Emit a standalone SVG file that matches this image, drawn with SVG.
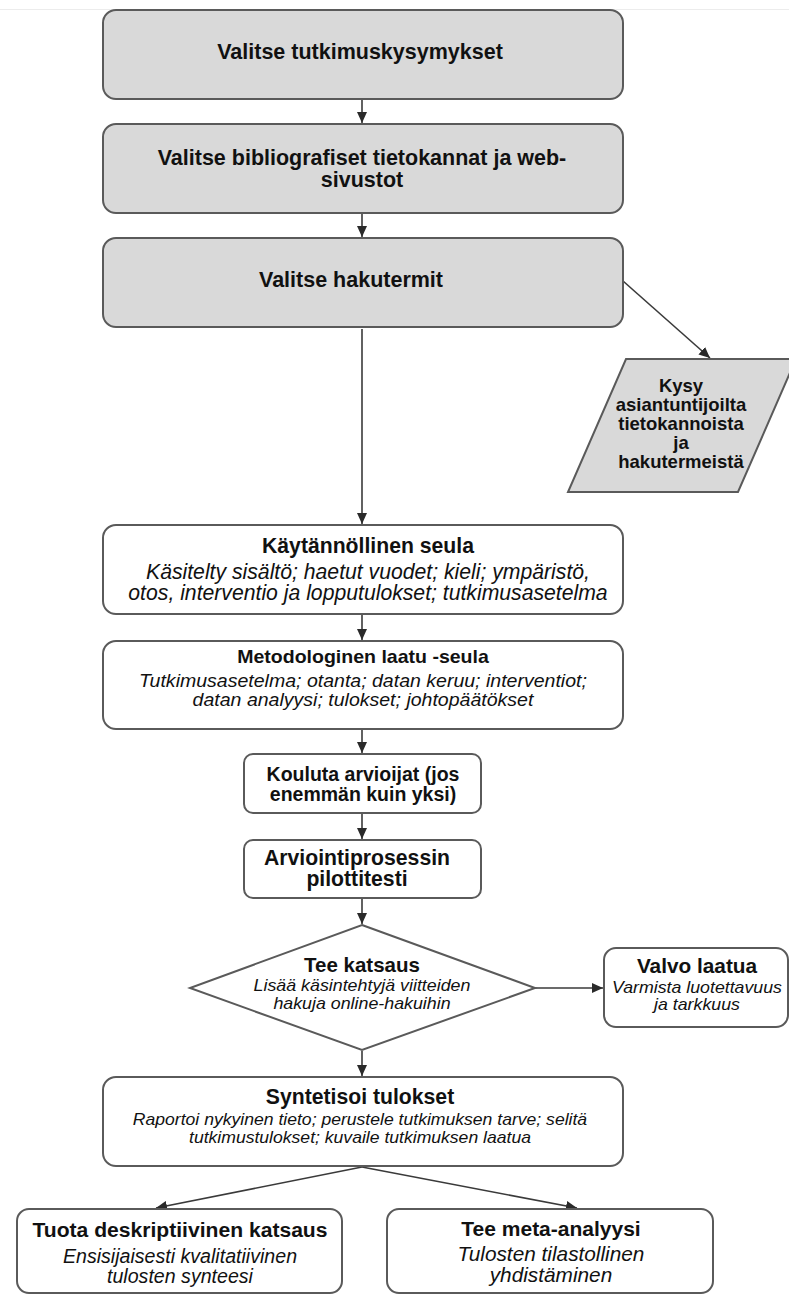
<svg xmlns="http://www.w3.org/2000/svg" width="789" height="1295" viewBox="0 0 789 1295">
  <style>
    .box { stroke: #5a5a5a; stroke-width: 2; }
    .grey { fill: #d9d9d9; }
    .white { fill: #ffffff; }
    .edge { fill: none; stroke: #3a3a3a; stroke-width: 1.6; }
    text { font-family: "Liberation Sans", Arial, sans-serif; fill: #111; text-anchor: middle; }
    .b { font-weight: bold; }
    .i { font-style: italic; }
  </style>
  <defs>
    <marker id="arrow" markerUnits="userSpaceOnUse" markerWidth="12" markerHeight="10" refX="11" refY="5" orient="auto">
      <path d="M0,0 L11,5 L0,10 Z" fill="#2a2a2a"/>
    </marker>
  </defs>

  <rect width="789" height="1295" fill="#ffffff"/>
  <line x1="0" y1="9.5" x2="789" y2="9.5" stroke="#ececec" stroke-width="1"/>

  <!-- connectors -->
  <g id="connectors">
    <line class="edge" x1="362" y1="100" x2="362" y2="123" marker-end="url(#arrow)"/>
    <line class="edge" x1="362" y1="214" x2="362" y2="237" marker-end="url(#arrow)"/>
    <line class="edge" x1="362" y1="329" x2="362" y2="524" marker-end="url(#arrow)"/>
    <line class="edge" x1="623" y1="281" x2="710" y2="358" marker-end="url(#arrow)"/>
    <line class="edge" x1="362" y1="615" x2="362" y2="640" marker-end="url(#arrow)"/>
    <line class="edge" x1="362" y1="730" x2="362" y2="753" marker-end="url(#arrow)"/>
    <line class="edge" x1="362" y1="814" x2="362" y2="839" marker-end="url(#arrow)"/>
    <line class="edge" x1="362" y1="899" x2="362" y2="924" marker-end="url(#arrow)"/>
    <line class="edge" x1="535" y1="988" x2="603" y2="988" marker-end="url(#arrow)"/>
    <line class="edge" x1="362" y1="1051" x2="362" y2="1076" marker-end="url(#arrow)"/>
    <line class="edge" x1="362" y1="1167" x2="156" y2="1208" marker-end="url(#arrow)"/>
    <line class="edge" x1="362" y1="1167" x2="577" y2="1208" marker-end="url(#arrow)"/>
  </g>

  <g id="n1">
    <rect class="box grey" x="103" y="10" width="520" height="89" rx="13"/>
    <text class="b" x="360" y="59" font-size="21.5">Valitse tutkimuskysymykset</text>
  </g>

  <g id="n2">
    <rect class="box grey" x="103" y="124" width="520" height="89" rx="13"/>
    <text class="b" x="362" y="165" font-size="21.5">Valitse bibliografiset tietokannat ja web-</text>
    <text class="b" x="362" y="187" font-size="21.5">sivustot</text>
  </g>

  <g id="n3">
    <rect class="box grey" x="103" y="238" width="520" height="89" rx="13"/>
    <text class="b" x="351" y="287" font-size="21.5">Valitse hakutermit</text>
  </g>

  <g id="n4">
    <polygon class="box grey" points="626,359 796,359 738,492 568,492"/>
    <text class="b" font-size="18.5" x="681" y="392">Kysy</text>
    <text class="b" font-size="18.5" x="681" y="411">asiantuntijoilta</text>
    <text class="b" font-size="18.5" x="681" y="430">tietokannoista</text>
    <text class="b" font-size="18.5" x="681" y="449">ja</text>
    <text class="b" font-size="18.5" x="681" y="468">hakutermeistä</text>
  </g>

  <g id="n5">
    <rect class="box white" x="103" y="525" width="520" height="89" rx="13"/>
    <text class="b" x="368" y="553" font-size="21.2">Käytännöllinen seula</text>
    <text class="i" x="368" y="579" font-size="21.2">Käsitelty sisältö; haetut vuodet; kieli; ympäristö,</text>
    <text class="i" x="368" y="600" font-size="21.2">otos, interventio ja lopputulokset; tutkimusasetelma</text>
  </g>

  <g id="n6">
    <rect class="box white" x="103" y="641" width="520" height="88" rx="13"/>
    <!-- labels set slightly wide: stretched about the box centre -->
    <g transform="matrix(1.11,0,0,1,-39.93,0)">
      <text class="b" x="363" y="663" font-size="17.6">Metodologinen laatu -seula</text>
      <text class="i" x="363" y="687" font-size="17.6">Tutkimusasetelma; otanta; datan keruu; interventiot;</text>
      <text class="i" x="363" y="706" font-size="17.6">datan analyysi; tulokset; johtopäätökset</text>
    </g>
  </g>

  <g id="n7">
    <rect class="box white" x="244" y="754" width="237" height="59" rx="9"/>
    <text class="b" x="363" y="781" font-size="19.5">Kouluta arvioijat (jos</text>
    <text class="b" x="363" y="801" font-size="19.5">enemmän kuin yksi)</text>
  </g>

  <g id="n8">
    <rect class="box white" x="244" y="840" width="237" height="58" rx="9"/>
    <text class="b" x="357" y="865" font-size="21.2">Arviointiprosessin</text>
    <text class="b" x="357" y="886" font-size="21.2">pilottitesti</text>
  </g>

  <g id="n9">
    <polygon class="box white" points="362,925 535,988 362,1050 190,988"/>
    <text class="b" x="362" y="972" font-size="20.5">Tee katsaus</text>
    <g transform="matrix(1.1,0,0,1,-36.2,0)">
      <text class="i" x="362" y="991" font-size="16.2">Lisää käsintehtyjä viitteiden</text>
      <text class="i" x="362" y="1009" font-size="16.2">hakuja online-hakuihin</text>
    </g>
  </g>

  <g id="n10">
    <rect class="box white" x="604" y="948" width="184" height="79" rx="12"/>
    <text class="b" x="697" y="973" font-size="20.8">Valvo laatua</text>
    <g transform="matrix(1.11,0,0,1,-76.67,0)">
      <text class="i" x="697" y="993" font-size="16">Varmista luotettavuus</text>
      <text class="i" x="697" y="1010" font-size="16">ja tarkkuus</text>
    </g>
  </g>

  <g id="n11">
    <rect class="box white" x="103" y="1077" width="520" height="89" rx="13"/>
    <text class="b" x="360" y="1104" font-size="21.2">Syntetisoi tulokset</text>
    <g transform="matrix(1.1,0,0,1,-36,0)">
      <text class="i" x="360" y="1125" font-size="16">Raportoi nykyinen tieto; perustele tutkimuksen tarve; selitä</text>
      <text class="i" x="360" y="1143" font-size="16">tutkimustulokset; kuvaile tutkimuksen laatua</text>
    </g>
  </g>

  <g id="n12">
    <rect class="box white" x="17" y="1209" width="325" height="84" rx="12"/>
    <text class="b" x="180" y="1237" font-size="21.1">Tuota deskriptiivinen katsaus</text>
    <text class="i" x="180" y="1263" font-size="19.6">Ensisijaisesti kvalitatiivinen</text>
    <text class="i" x="180" y="1283" font-size="19.6">tulosten synteesi</text>
  </g>

  <g id="n13">
    <rect class="box white" x="387" y="1209" width="326" height="84" rx="12"/>
    <text class="b" x="551" y="1236" font-size="21">Tee meta-analyysi</text>
    <text class="i" x="551" y="1261" font-size="20.8">Tulosten tilastollinen</text>
    <text class="i" x="551" y="1282" font-size="20.8">yhdistäminen</text>
  </g>
</svg>
